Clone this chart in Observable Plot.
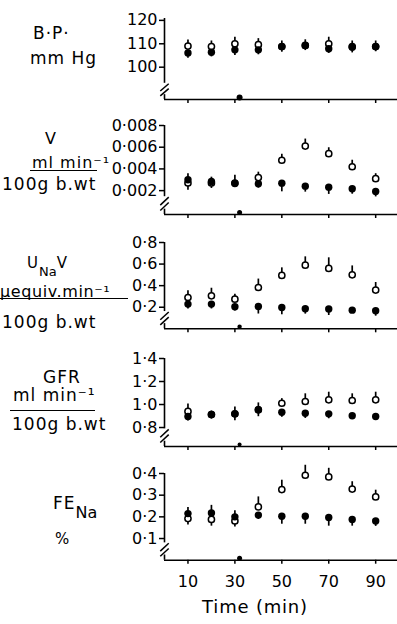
<!DOCTYPE html>
<html><head><meta charset="utf-8">
<script src="https://cdn.jsdelivr.net/npm/d3@7"></script>
<script src="https://cdn.jsdelivr.net/npm/@observablehq/plot@0.6"></script>
<style>
html,body{margin:0;padding:0;background:#fff;}
#fig{position:relative;width:397px;height:624px;overflow:hidden;font-family:"DejaVu Sans";color:#000;}
.lab{position:absolute;white-space:nowrap;font-size:17px;line-height:17px;letter-spacing:1px;}
.rule{position:absolute;border-top:1.5px solid #000;height:0;}
</style></head><body><div id="fig"></div>
<script>
// time points (min)
const times = [10,20,30,40,50,60,70,80,90];
const xTicks = [10,30,50,70,90];
const markerTime = [32];

// Blood pressure (mm Hg)
const bpTicks = [100,110,120];
const bpOpen = [109.0,108.8,110.0,109.6,108.8,109.3,110.0,108.8,108.8];
const bpOpenErr = [2.6,2.4,2.8,2.6,2.4,2.4,2.8,2.4,2.4];
const bpFilled = [106.1,106.4,107.4,107.4,108.8,109.3,107.9,108.5,108.8];
const bpFilledErr = [-2.3,-2.0,-2.4,-2.1,-2.4,-2.2,-2.0,-2.4,-2.2];

// Urine flow V (ml min-1 / 100g b.wt)
const vTicks = [0.002,0.004,0.006,0.008];
const vOpen = [0.0027,0.0027,0.0027,0.0032,0.0048,0.0061,0.0054,0.0042,0.0031];
const vOpenErr = [-0.00067,-0.0005,-0.0004,0.0005,0.00055,0.00065,0.00055,0.0006,0.00046];
const vFilled = [0.0030,0.00284,0.00266,0.00263,0.00269,0.00241,0.00232,0.00217,0.00192];
const vFilledErr = [0.00055,0.0004,0.00075,-0.0004,-0.0008,-0.00055,-0.00067,-0.0005,-0.0005];

// Sodium excretion UNaV (µequiv.min-1 / 100g b.wt)
const unaTicks = [0.2,0.4,0.6,0.8];
const unaOpen = [0.29,0.306,0.275,0.383,0.495,0.59,0.56,0.5,0.359];
const unaOpenErr = [0.062,0.07,0.046,0.078,0.07,0.077,0.098,0.083,0.07];
const unaFilled = [0.229,0.229,0.204,0.207,0.198,0.186,0.183,0.173,0.167];
const unaFilledErr = [-0.045,-0.045,-0.04,-0.07,-0.068,-0.05,-0.06,-0.02,-0.05];

// GFR (ml min-1 / 100g b.wt)
const gfrTicks = [0.8,1.0,1.2,1.4];
const gfrOpen = [0.94,0.913,0.919,0.954,1.011,1.026,1.041,1.035,1.041];
const gfrOpenErr = [0.064,0.03,0.06,0.06,0.04,0.067,0.066,0.058,0.066];
const gfrFilled = [0.896,0.913,0.919,0.954,0.933,0.924,0.919,0.902,0.896];
const gfrFilledErr = [-0.04,-0.04,-0.06,-0.06,-0.044,-0.045,-0.043,-0.03,-0.035];

// Fractional sodium excretion FENa (%)
const feTicks = [0.1,0.2,0.3,0.4];
const feOpen = [0.192,0.188,0.181,0.246,0.326,0.392,0.384,0.328,0.292];
const feOpenErr = [-0.03,-0.031,-0.028,0.046,0.043,0.046,0.04,0.034,0.031];
const feFilled = [0.215,0.218,0.2,0.208,0.203,0.203,0.197,0.188,0.181];
const feFilledErr = [0.028,0.035,0.028,-0.02,-0.037,-0.037,-0.04,-0.031,-0.025];

// panel layout (pixel placement of axis top / baseline and matching scale values)
const panels = [
  {open: bpOpen, openErr: bpOpenErr, filled: bpFilled, filledErr: bpFilledErr, ticks: bpTicks, dec: 0, top: 18, base: 99, lo: 86.2, hi: 120.8, mr: 3},
  {open: vOpen, openErr: vOpenErr, filled: vFilled, filledErr: vFilledErr, ticks: vTicks, dec: 3, top: 125, base: 214, lo: -0.0002, hi: 0.008, mr: 2.5},
  {open: unaOpen, openErr: unaOpenErr, filled: unaFilled, filledErr: unaFilledErr, ticks: unaTicks, dec: 1, top: 241.7, base: 328, lo: 0, hi: 0.8, mr: 2.2},
  {open: gfrOpen, openErr: gfrOpenErr, filled: gfrFilled, filledErr: gfrFilledErr, ticks: gfrTicks, dec: 1, top: 358, base: 446, lo: 0.635, hi: 1.4, mr: 2},
  {open: feOpen, openErr: feOpenErr, filled: feFilled, filledErr: feFilledErr, ticks: feTicks, dec: 1, top: 473.3, base: 560, lo: 0, hi: 0.4, mr: 2.5}
];

const fig = document.getElementById("fig");
panels.forEach((p, i) => {
  const last = i === panels.length - 1;
  const mt = 14;
  const svgTop = p.top - mt;
  const mb = last ? 45 : 8;
  const H = Math.round(p.base - svgTop + mb);
  const span = p.hi - p.lo;
  const openRows = times.map((t, j) => ({t, v: p.open[j], e: p.openErr[j]}));
  const filledRows = times.map((t, j) => ({t, v: p.filled[j], e: p.filledErr[j]}));
  const fmt = d => d.toFixed(p.dec).replace(".", "\u00B7");
  const chart = Plot.plot({
    width: 397, height: H,
    marginLeft: 164, marginRight: 0, marginTop: mt, marginBottom: H - (p.base - svgTop),
    style: {fontFamily: "DejaVu Sans", fontSize: "16px", color: "black", background: "transparent", overflow: "visible"},
    x: {domain: [0, 99.3]},
    y: {domain: [p.lo, p.hi]},
    marks: [
      Plot.ruleY([p.lo], {strokeWidth: 1.6}),
      Plot.ruleX([0], {y1: p.lo + 0.2 * span, y2: p.hi, strokeWidth: 1.6}),
      Plot.ruleX([0], {y1: p.lo, y2: p.lo + 0.06 * span, strokeWidth: 1.6}),
      Plot.link([0.09, 0.15], {x1: () => -1.8, x2: () => 1.8, y1: f => p.lo + (f - 0.045) * span, y2: f => p.lo + (f + 0.045) * span, strokeWidth: 1.5}),
      Plot.axisY({ticks: p.ticks, tickFormat: fmt, tickSize: 5, tickPadding: 2, strokeWidth: 1.5, label: null, fontSize: 16}),
      Plot.axisX({ticks: xTicks, tickFormat: last ? (d => String(d)) : (() => ""), tickSize: 4, tickPadding: 11, strokeWidth: 1.5, label: null, fontSize: 16}),
      Plot.dot(markerTime, {x: d => d, y: () => p.lo, r: p.mr, fill: "black", dy: -2}),
      Plot.ruleX(openRows, {x: "t", y1: "v", y2: d => d.v + d.e, strokeWidth: 1.7}),
      Plot.dot(openRows, {x: "t", y: "v", r: 3.1, fill: "white", stroke: "black", strokeWidth: 1.5}),
      Plot.ruleX(filledRows, {x: "t", y1: "v", y2: d => d.v + d.e, strokeWidth: 1.7}),
      Plot.dot(filledRows, {x: "t", y: "v", r: 3.7, fill: "black"})
    ]
  });
  chart.style.position = "absolute";
  chart.style.left = "0px";
  chart.style.top = svgTop + "px";
  fig.appendChild(chart);
});

// left-hand labels (HTML text)
function lab(html, left, cy, size, extra) {
  const d = document.createElement("div");
  d.className = "lab";
  d.innerHTML = html;
  d.style.left = left + "px";
  d.style.fontSize = size + "px";
  d.style.lineHeight = size + "px";
  d.style.top = (cy - 0.48 * size) + "px";
  if (extra) Object.assign(d.style, extra);
  fig.appendChild(d);
  return d;
}
function rule(x1, x2, y) {
  const d = document.createElement("div");
  d.className = "rule";
  d.style.left = x1 + "px";
  d.style.width = (x2 - x1) + "px";
  d.style.top = y + "px";
  fig.appendChild(d);
}
// B.P.
lab("B\u00B7P\u00B7", 33, 33, 17);
lab("mm Hg", 30, 58.5, 17);
// V
lab("V", 45, 139, 16);
lab("ml min\u207B\u00B9", 32, 163, 16);
rule(30, 97, 170);
lab("100g b.wt", 2, 184, 17);
// UNaV
lab("U<span style=\"font-size:13px;position:relative;top:8px;letter-spacing:0\">Na</span>V", 27, 263, 15);
lab("\u00B5equiv.min\u207B\u00B9", 0, 291.5, 16, {letterSpacing: "0.6px"});
rule(0, 128, 298);
lab("100g b.wt", 2, 322, 17);
// GFR
lab("GFR", 43, 377, 17);
lab("ml min\u207B\u00B9", 13, 395, 17);
rule(10, 95, 410);
lab("100g b.wt", 12, 424, 17);
// FENa
lab("FE<span style=\"font-size:16px;position:relative;top:9px;letter-spacing:0\">Na</span>", 53, 503, 17);
lab("%", 55, 539, 15);
// x label
lab("Time (min)", 200, 607, 18, {width: "110px", textAlign: "center", letterSpacing: "0.8px"});
</script>
</body></html>
